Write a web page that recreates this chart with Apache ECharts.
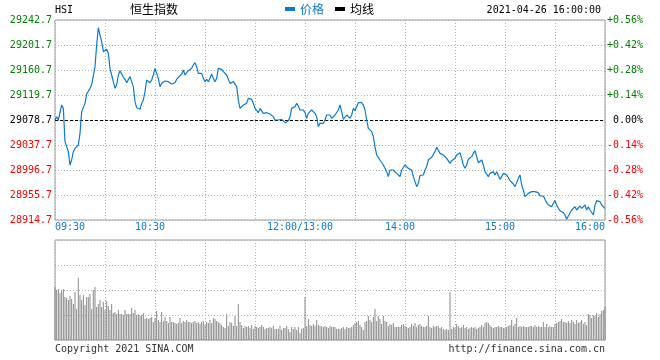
<!DOCTYPE html>
<html><head><meta charset="utf-8">
<script src="https://cdn.jsdelivr.net/npm/echarts@6/dist/echarts.min.js"></script>
<style>html,body{margin:0;padding:0;background:#fff}#c{width:660px;height:360px}</style>
</head><body><div id="c"></div>
<script>
// ---- data ----
const symbol = 'HSI';
const indexName = '恒生指数';
const dateTime = '2021-04-26 16:00:00';
const prevClose = 29078.7;
const axisMin = 28914.7;
const axisMax = 29242.7;
const axisStep = 41;
const timeLabels = {0:'09:30', 60:'10:30', 150:'12:00/13:00', 210:'14:00', 270:'15:00', 330:'16:00'};
const legendNames = ['价格', '均线'];
const copyrightText = 'Copyright 2021 SINA.COM';
const urlText = 'http://finance.sina.com.cn';

// one price per minute, 09:30 .. 12:00 / 13:00 .. 16:00
const prices = [
29078.7,29084.2,29078.7,29078.7,29103.3,29097.8,29043.2,29040.4,29026.8,29004.9,
29013.1,29026.8,29032.2,29035.0,29037.7,29056.8,29092.4,29095.1,29106.0,29121.3,
29122.4,29130.6,29136.1,29138.8,29166.2,29201.7,29230.0,29218.0,29207.2,29190.8,
29192.4,29194.6,29188.0,29163.4,29152.5,29141.6,29130.6,29136.1,29152.5,29159.6,
29158.0,29148.7,29145.4,29139.9,29138.8,29149.8,29147.0,29133.4,29108.8,29098.9,
29097.8,29096.2,29106.0,29111.5,29125.2,29144.3,29143.2,29139.9,29144.3,29152.5,
29163.4,29160.7,29147.0,29133.4,29138.8,29141.6,29142.7,29142.1,29141.6,29139.9,
29137.7,29135.5,29139.9,29145.4,29148.7,29151.4,29154.1,29160.7,29152.5,29156.3,
29159.6,29158.0,29163.4,29168.9,29172.7,29166.2,29155.2,29152.5,29155.2,29147.0,
29141.6,29145.4,29141.6,29147.0,29154.1,29147.0,29141.6,29147.0,29163.4,29160.7,
29161.8,29158.0,29158.0,29152.5,29149.8,29138.8,29138.8,29141.6,29138.8,29133.4,
29111.5,29097.8,29097.8,29103.3,29101.7,29106.0,29114.2,29114.2,29112.6,29106.0,
29097.8,29096.2,29090.7,29097.8,29095.1,29089.6,29091.3,29090.7,29089.6,29088.5,
29086.9,29084.2,29078.7,29079.8,29078.7,29081.4,29079.8,29077.6,29074.3,29076.0,
29077.6,29084.2,29097.8,29098.9,29100.6,29106.0,29101.7,29095.1,29092.4,29095.1,
29090.7,29081.4,29089.6,29092.4,29095.1,29092.4,29089.6,29084.2,29067.8,29073.2,
29070.5,29073.2,29078.7,29086.9,29085.3,29086.9,29081.4,29084.2,29086.9,29089.6,
29095.1,29103.3,29092.4,29079.8,29078.7,29086.9,29089.6,29081.4,29086.9,29097.8,
29094.0,29100.6,29107.1,29108.8,29107.1,29103.3,29095.1,29078.7,29065.0,29062.3,
29059.6,29051.4,29035.0,29021.3,29017.5,29013.1,29010.4,29004.9,29002.2,28994.0,
28985.8,28996.7,28999.4,28996.7,28994.0,28991.2,28991.2,28985.8,28996.7,28999.4,
29004.9,29002.2,28999.4,28996.7,28996.7,28985.8,28977.6,28969.4,28974.8,28988.0,
28991.2,28988.5,28996.7,29002.2,29013.1,29014.2,29017.5,29018.6,29026.8,29033.9,
29032.2,29024.0,29024.0,29021.3,29021.3,29015.8,29013.1,29007.6,29012.0,29010.4,
29015.8,29021.3,29024.0,29025.1,29015.8,29004.9,28999.4,29004.9,29014.2,29015.8,
29018.6,29024.0,29028.4,29018.6,29008.7,29007.6,29013.1,29004.9,28994.0,28991.2,
28985.8,28991.2,28989.6,28994.0,28988.5,28994.0,28991.2,28981.4,28985.8,28991.2,
28994.0,28988.5,28985.8,28979.2,28977.6,28973.7,28969.4,28972.1,28983.0,28988.5,
28972.1,28963.9,28953.0,28955.7,28958.4,28959.5,28961.2,28962.8,28961.2,28958.4,
28959.5,28954.1,28953.0,28954.1,28951.9,28943.1,28939.3,28939.3,28936.6,28942.0,
28946.4,28939.3,28933.8,28930.0,28932.2,28926.7,28922.9,28915.8,28921.2,28922.9,
28931.1,28933.8,28936.6,28931.1,28933.8,28937.7,28933.8,28936.6,28939.3,28931.1,
28936.6,28931.1,28928.4,28922.9,28939.3,28946.4,28944.8,28944.8,28939.3,28936.6,
28933.8
];

// per-minute volume (relative units, panel max = 100)
const volumes = [
53,50,51,47,49,51,43,42,40,44,
41,36,48,31,62,45,40,45,35,43,
43,46,31,50,53,33,36,40,33,38,
30,39,34,30,36,27,28,26,30,26,
26,25,30,26,26,26,32,27,30,25,
26,24,25,27,21,22,21,22,23,18,
22,29,20,18,28,19,23,19,17,23,
18,18,17,16,17,22,17,19,18,20,
18,18,17,18,19,17,18,16,18,19,
15,18,17,20,17,22,21,19,18,17,
15,13,12,26,14,18,17,14,24,14,
36,18,15,12,14,13,14,12,15,11,
14,13,12,13,15,13,11,12,12,13,
12,14,11,11,11,14,10,12,12,14,
11,8,13,11,13,10,13,7,11,12,
43,14,21,15,14,16,14,20,15,14,
14,13,14,13,12,14,13,13,13,11,
11,11,12,13,11,13,12,12,13,15,
17,18,19,15,13,10,18,19,24,20,
18,23,31,19,24,21,16,24,19,18,
14,16,15,17,13,13,13,13,15,16,
14,13,12,13,16,14,17,13,15,16,
14,13,13,14,24,13,12,14,13,14,
14,12,13,11,10,11,10,48,11,13,
12,16,14,12,13,15,12,13,11,12,
13,12,13,11,12,13,15,13,17,18,
17,15,13,12,13,13,14,13,13,12,
12,13,14,15,20,14,16,22,13,14,
13,14,13,13,13,14,14,13,15,13,
14,13,13,18,13,16,13,14,13,13,
16,17,18,19,21,18,18,17,19,17,
20,18,16,20,17,18,20,16,18,15,
26,25,22,25,24,27,23,26,29,30,
33
];

// ---- chart ----
const MONO = '"DejaVu Sans Mono", "Liberation Mono", monospace';
const CJK = '"Noto Sans CJK SC", sans-serif';
const BLUE = '#0a7bd0';
const GREEN = '#008000';
const RED = '#ff0000';
const GRIDC = '#b0b0b0';
const span = axisMax - axisMin;
const pcOff = prevClose - axisMin;

const priceData = prices.map((p, i) => [i, +(p - axisMin).toFixed(2)]);
const volData = volumes.map((v, i) => [i, v]);

function levelColor(v) {
  v = Number(v);
  if (v > pcOff + 0.01) return GREEN;
  if (v < pcOff - 0.01) return RED;
  return '#000';
}

const chart = echarts.init(document.getElementById('c'), null, {renderer: 'canvas'});
chart.setOption({
  animation: false,
  grid: [
    {left: 55, top: 20, width: 550, height: 200, show: true, borderColor: '#999', borderWidth: 1},
    {left: 55, top: 240, width: 550, height: 100, show: true, borderColor: '#999', borderWidth: 1}
  ],
  legend: {
    left: 280, top: -2, itemWidth: 10, itemHeight: 4, itemGap: 11, icon: 'rect',
    textStyle: {fontFamily: CJK, fontSize: 12},
    data: [
      {name: legendNames[0], textStyle: {color: BLUE}},
      {name: legendNames[1], textStyle: {color: '#000'}}
    ]
  },
  xAxis: [
    {
      gridIndex: 0, type: 'value', min: 0, max: 330, interval: 30,
      axisLine: {show: false}, axisTick: {show: false},
      splitLine: {show: true, lineStyle: {type: [1, 2], color: GRIDC, width: 1}},
      axisLabel: {
        margin: 2, color: BLUE, fontFamily: MONO, fontSize: 10,
        showMinLabel: true, showMaxLabel: true,
        alignMinLabel: 'left', alignMaxLabel: 'right',
        formatter: function (v) {
          const t = timeLabels[v];
          if (!t) return '';
          if (v === 0 || v === 330) return t;
          return '{c|' + t + '}';
        },
        rich: {c: {padding: [0, 10, 0, 0], fontFamily: MONO, fontSize: 10, color: BLUE}}
      }
    },
    {
      gridIndex: 1, type: 'value', min: 0, max: 330, interval: 30,
      axisLine: {show: false}, axisTick: {show: false}, axisLabel: {show: false},
      splitLine: {show: true, lineStyle: {type: [1, 2], color: GRIDC, width: 1}}
    }
  ],
  yAxis: [
    {
      gridIndex: 0, type: 'value', position: 'left', min: 0, max: span, interval: axisStep,
      axisLine: {show: false}, axisTick: {show: false},
      splitLine: {show: true, lineStyle: {type: [1, 2], color: GRIDC, width: 1}},
      axisLabel: {
        margin: 3, fontFamily: MONO, fontSize: 10, padding: [0, 0, 4, 0],
        showMinLabel: true, showMaxLabel: true,
        formatter: v => (Number(v) + axisMin).toFixed(1),
        color: levelColor
      }
    },
    {
      gridIndex: 0, type: 'value', position: 'right', min: 0, max: span, interval: axisStep,
      axisLine: {show: false}, axisTick: {show: false}, splitLine: {show: false},
      axisLabel: {
        margin: 2, fontFamily: MONO, fontSize: 10, padding: [0, 0, 4, 0],
        showMinLabel: true, showMaxLabel: true,
        formatter: function (v) {
          const p = (Number(v) - pcOff) / prevClose * 100;
          if (Math.abs(p) < 0.001) return ' 0.00%';
          return (p > 0 ? '+' : '-') + Math.abs(p).toFixed(2) + '%';
        },
        color: levelColor
      }
    },
    {
      gridIndex: 1, type: 'value', min: 0, max: 100, interval: 25,
      axisLine: {show: false}, axisTick: {show: false}, axisLabel: {show: false},
      splitLine: {show: true, lineStyle: {type: [1, 2], color: GRIDC, width: 1}}
    }
  ],
  series: [
    {
      name: legendNames[0], type: 'line', xAxisIndex: 0, yAxisIndex: 0,
      data: priceData, showSymbol: false, symbol: 'none',
      lineStyle: {color: BLUE, width: 1.2}, itemStyle: {color: BLUE},
      z: 5,
      markLine: {
        silent: true, symbol: 'none', label: {show: false},
        lineStyle: {color: '#000', type: [3, 2], width: 1},
        data: [{yAxis: pcOff}]
      }
    },
    {
      name: legendNames[1], type: 'line', xAxisIndex: 0, yAxisIndex: 0,
      data: [], showSymbol: false, itemStyle: {color: '#000'}, lineStyle: {color: '#000'}
    },
    {
      name: '成交量', type: 'bar', xAxisIndex: 1, yAxisIndex: 2,
      data: volData, barWidth: 1, itemStyle: {color: '#8a8a8a'}
    }
  ],
  graphic: [
    {type: 'text', left: 55, top: 5, style: {text: symbol, font: '10px ' + MONO, fill: '#000'}},
    {type: 'text', left: 130, top: 3, style: {text: indexName, font: '12px ' + CJK, fill: '#000'}},
    {type: 'text', right: 59, top: 5, style: {text: dateTime, font: '10px ' + MONO, fill: '#000'}},
    {type: 'text', left: 55, top: 344, style: {text: copyrightText, font: '10px ' + MONO, fill: '#333'}},
    {type: 'text', right: 55, top: 344, style: {text: urlText, font: '10px ' + MONO, fill: '#333'}}
  ]
});
</script>
</body></html>
